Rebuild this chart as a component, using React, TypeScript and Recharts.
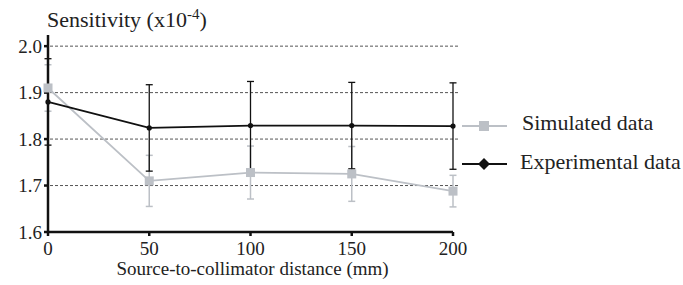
import React from "react";
import {
  LineChart,
  Line,
  XAxis,
  YAxis,
  CartesianGrid,
  ErrorBar,
} from "recharts";

const distances = [0, 50, 100, 150, 200];
const simulated = [1.91, 1.71, 1.728, 1.725, 1.688];
const simulatedErr = [0.05, 0.055, 0.057, 0.059, 0.034];
const experimental = [1.88, 1.824, 1.829, 1.829, 1.828];
const experimentalErr = [0.093, 0.093, 0.095, 0.093, 0.093];
const xTicks = [0, 50, 100, 150, 200];
const yTicks = [1.6, 1.7, 1.8, 1.9, 2.0];
const gridValues = [1.7, 1.8, 1.9, 2.0];

const GREY = "#bcc0c6";
const FONT = "'Liberation Serif', 'DejaVu Serif', serif";

const data = distances.map((d, i) => ({
  distance: d,
  sim: simulated[i],
  simErr: simulatedErr[i],
  exp: experimental[i],
  expErr: experimentalErr[i],
}));

// eslint-disable-next-line @typescript-eslint/no-explicit-any
const SquareDot = ({ cx, cy }: any) => (
  <rect x={cx - 4.5} y={cy - 4.5} width={9} height={9} fill={GREY} />
);

// eslint-disable-next-line @typescript-eslint/no-explicit-any
const SmallDot = ({ cx, cy }: any) => <circle cx={cx} cy={cy} r={2.6} fill="#111" />;

// grid lines in the original run a few px past the last tick
// eslint-disable-next-line @typescript-eslint/no-explicit-any
const GridLine = ({ x1, x2, y1, y2 }: any) => (
  <line
    x1={x1 + 2}
    x2={x2 + 5}
    y1={y1}
    y2={y2}
    stroke="#555"
    strokeDasharray="3 2"
    strokeWidth={1}
  />
);

const LegendBox = () => (
  <svg
    width={228}
    height={70}
    style={{ position: "absolute", left: 455, top: 110 }}
  >
    <line x1={7} y1={16} x2={52} y2={16} stroke={GREY} strokeWidth={2} />
    <rect x={24} y={11} width={10} height={10} fill={GREY} />
    <text x={67} y={20} fontSize={22} fontFamily={FONT} fill="#222">
      Simulated data
    </text>
    <line x1={7} y1={54} x2={52} y2={54} stroke="#111" strokeWidth={2} />
    <polygon points="29,48 35,54 29,60 23,54" fill="#111" />
    <text x={65} y={59} fontSize={22} fontFamily={FONT} fill="#222">
      Experimental data
    </text>
  </svg>
);

const YTitle = () => (
  <text x={47} y={27} fontSize={22} fontFamily={FONT} fill="#222">
    Sensitivity (x10
    <tspan fontSize={15} dy={-8}>-4</tspan>
    <tspan dy={8}>)</tspan>
  </text>
);

export default function App() {
  return (
    <div style={{ position: "absolute", left: 0, top: 0, width: 683, height: 285 }}>
      <LineChart
        width={683}
        height={285}
        data={data}
        margin={{ top: 35, right: 230, bottom: 8, left: 0 }}
      >
        <CartesianGrid
          horizontal={<GridLine />}
          vertical={false}
          horizontalValues={gridValues}
        />
        <XAxis
          dataKey="distance"
          type="number"
          domain={[0, 200]}
          ticks={xTicks}
          height={45}
          stroke="#111"
          strokeWidth={2.5}
          tickSize={4}
          tick={{ fill: "#222", fontSize: 19, fontFamily: FONT, dy: 4 }}
          label={{
            value: "Source-to-collimator distance (mm)",
            position: "insideBottom",
            offset: 2,
            fill: "#222",
            fontSize: 19,
            fontFamily: FONT,
            dx: 2,
          }}
        />
        <YAxis
          type="number"
          domain={[1.6, 2.024]}
          ticks={yTicks}
          width={48}
          stroke="#111"
          strokeWidth={2.5}
          tickSize={4}
          allowDataOverflow
          tickFormatter={(v: number) => v.toFixed(1)}
          tick={{ fill: "#222", fontSize: 19, fontFamily: FONT }}
          label={<YTitle />}
        />
        <Line
          dataKey="sim"
          stroke={GREY}
          strokeWidth={1.8}
          dot={<SquareDot />}
          isAnimationActive={false}
        >
          <ErrorBar dataKey="simErr" width={3.5} stroke={GREY} strokeWidth={1.5} direction="y" />
        </Line>
        <Line
          dataKey="exp"
          stroke="#111"
          strokeWidth={1.8}
          dot={<SmallDot />}
          isAnimationActive={false}
        >
          <ErrorBar dataKey="expErr" width={3.5} stroke="#111" strokeWidth={1.3} direction="y" />
        </Line>
      </LineChart>
      <LegendBox />
    </div>
  );
}
